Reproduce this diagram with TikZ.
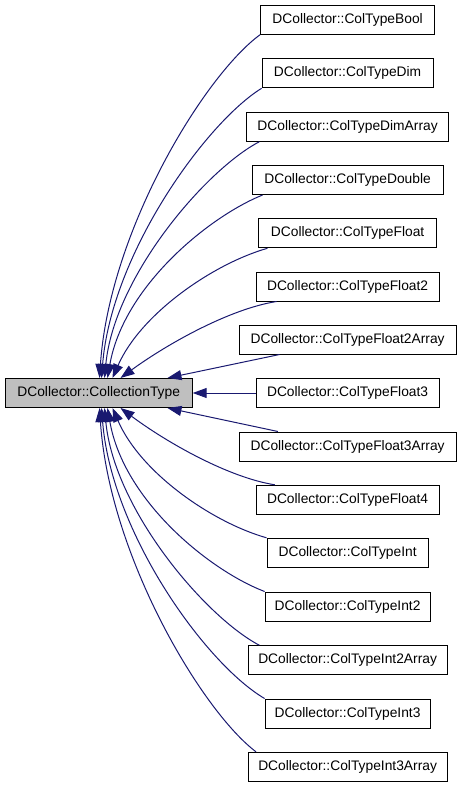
\documentclass[tikz,border=0pt]{standalone}
\usepackage{fontspec}
\setmainfont{Liberation Sans}
\usetikzlibrary{arrows.meta}
\definecolor{edgeblue}{HTML}{191970}
\definecolor{maingray}{HTML}{BFBFBF}
\begin{document}
\begin{tikzpicture}[x=1pt,y=-1pt,
  box/.style={draw=black, line width=1pt, fill=white, minimum height=29pt, inner sep=0pt,
    font=\fontsize{13.8}{16}\selectfont},
  mainbox/.style={box, fill=maingray},
  edge/.style={draw=edgeblue, line width=1pt, -{Triangle[length=14pt,width=10pt]}}]
\useasboundingbox (0,0) rectangle (461,787);

\node[mainbox, minimum width=187pt] (main) at (98.7,393) {DCollector::CollectionType};

\node[box, minimum width=174pt] (bool)   at (347.6,19.7)  {DCollector::ColTypeBool};
\node[box, minimum width=171pt] (dim)    at (347.6,73.3)  {DCollector::ColTypeDim};
\node[box, minimum width=202pt] (dima)   at (347.6,126.7) {DCollector::ColTypeDimArray};
\node[box, minimum width=191pt] (dbl)    at (347.6,180.0) {DCollector::ColTypeDouble};
\node[box, minimum width=178pt] (flt)    at (347.6,233.3) {DCollector::ColTypeFloat};
\node[box, minimum width=183pt] (flt2)   at (347.6,286.5) {DCollector::ColTypeFloat2};
\node[box, minimum width=217pt] (flt2a)  at (347.6,339.5) {DCollector::ColTypeFloat2Array};
\node[box, minimum width=183pt] (flt3)   at (347.6,393.0) {DCollector::ColTypeFloat3};
\node[box, minimum width=217pt] (flt3a)  at (347.6,446.5) {DCollector::ColTypeFloat3Array};
\node[box, minimum width=183pt] (flt4)   at (347.6,499.8) {DCollector::ColTypeFloat4};
\node[box, minimum width=161pt] (int)    at (347.6,552.8) {DCollector::ColTypeInt};
\node[box, minimum width=165pt] (int2)   at (347.6,606.5) {DCollector::ColTypeInt2};
\node[box, minimum width=199pt] (int2a)  at (347.6,660.2) {DCollector::ColTypeInt2Array};
\node[box, minimum width=165pt] (int3)   at (347.6,713.5) {DCollector::ColTypeInt3};
\node[box, minimum width=199pt] (int3a)  at (347.6,766.8) {DCollector::ColTypeInt3Array};

% upper edges
\draw[edge] (bool.south west) .. controls (204.3,75.5) and (109.6,230.5) .. ([xshift=94.8pt]main.north west);
\draw[edge] (dim.south west) .. controls (206,122.7) and (111.6,253.5) .. ([xshift=96.8pt]main.north west);
\draw[edge] ([xshift=13.3pt]dima.south west) .. controls (205.8,169.7) and (114.3,276.5) .. ([xshift=99.8pt]main.north west);
\draw[edge] ([xshift=11pt]dbl.south west) .. controls (208.9,216.6) and (123.5,286.5) .. ([xshift=102.8pt]main.north west);
\draw[edge] ([xshift=9.3pt]flt.south west) .. controls (213.9,263.5) and (141,313.2) .. ([xshift=107.8pt]main.north west);
\draw[edge] ([xshift=21pt]flt2.south west) .. controls (230,308.8) and (167.7,343.6) .. ([xshift=115.8pt]main.north west);
\draw[edge] ([xshift=41pt]flt2a.south west) -- ([xshift=162.8pt]main.north west);
% middle
\draw[edge] (flt3.west) -- (main.east);
% lower edges
\draw[edge] ([xshift=39.3pt]flt3a.north west) -- ([xshift=162.8pt]main.south west);
\draw[edge] ([xshift=19.3pt]flt4.north west) .. controls (228.8,477.6) and (167.2,442.8) .. ([xshift=115.8pt]main.south west);
\draw[edge] (int.north west) .. controls (212.9,522.7) and (140.7,473.2) .. ([xshift=107.8pt]main.south west);
\draw[edge] (int2.north west) .. controls (208.9,570.2) and (123.5,500.2) .. ([xshift=102.8pt]main.south west);
\draw[edge] ([xshift=11.7pt]int2a.north west) .. controls (205.8,617.2) and (114.3,510.2) .. ([xshift=99.8pt]main.south west);
\draw[edge] (int3.north west) .. controls (205.8,664.1) and (111.6,533.1) .. ([xshift=96.8pt]main.south west);
\draw[edge] ([xshift=8.4pt]int3a.north west) .. controls (201.9,711) and (109.4,556.0) .. ([xshift=94.8pt]main.south west);
\end{tikzpicture}
\end{document}
